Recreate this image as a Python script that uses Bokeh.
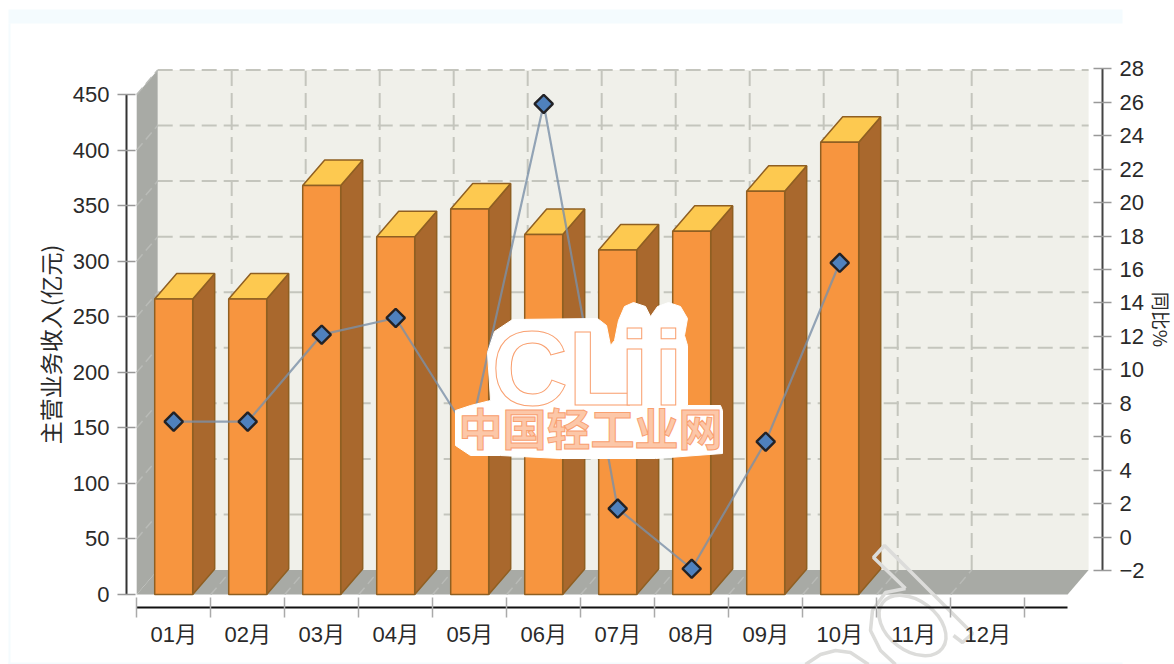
from bokeh.plotting import figure
from bokeh.models import Range1d, LinearAxis, FixedTicker
from bokeh.core.properties import value
from bokeh.embed import file_html
from bokeh.resources import INLINE
import math

months = ["01月", "02月", "03月", "04月", "05月", "06月", "07月", "08月", "09月", "10月", "11月", "12月"]
revenue = [266, 266, 368, 322, 347, 324, 310, 327, 363, 407]
growth = [6.9, 6.9, 12.1, 13.1, 6.1, 25.9, 1.7, -1.9, 5.7, 16.4]
left_ticks = [0, 50, 100, 150, 200, 250, 300, 350, 400, 450]
right_ticks = [-2, 0, 2, 4, 6, 8, 10, 12, 14, 16, 18, 20, 22, 24, 26, 28]

W, H = 1174, 664
OX, OY = 0, 0
XS, X0 = 74.0, 173.2
YS, Y0 = 500 / 450, 594.0
RS, R0 = 16.72, 536.5


def X(px):
    return (px - X0) / XS


def Y(py):
    return (Y0 - py) / YS


def R(py):
    return (R0 - py) / RS


FONT = "Liberation Sans, Noto Sans CJK SC"
CJK = "Noto Sans CJK SC"
INK = "#2a2a2a"

p = figure(width=W, height=H, output_backend="svg", toolbar_location=None,
           x_range=Range1d(X(OX), X(OX + W)), y_range=Range1d(Y(OY + H), Y(OY)),
           x_axis_type=None, y_axis_type=None, min_border=0,
           border_fill_color="white", background_fill_color="white", outline_line_color=None)
p.grid.visible = False
p.extra_y_ranges = {"pct": Range1d(R(OY + H), R(OY))}

# page strips
BAND = "#f4fbfe"
p.quad(left=[X(8)], right=[X(1122)], bottom=[Y(23)], top=[Y(9)], fill_color=BAND, line_color=None)
p.quad(left=[X(8)], right=[X(10)], bottom=[Y(664)], top=[Y(23)], fill_color=BAND, line_color=None)
p.quad(left=[X(8)], right=[X(1122)], bottom=[Y(664)], top=[Y(662)], fill_color=BAND, line_color=None)

# depth of the 3D box and bars, in data units
DX_W, DY_W = 21 / XS, 24.5 / YS
DX_B, DY_B = 22 / XS, 25.5 / YS
HALF = 19 / XS
XL, XR = -0.5, 12 - 0.5 + 0.58  # x extent of the floor front edge

# walls
p.quad(left=[XL + DX_W], right=[XR + DX_W], bottom=[DY_W], top=[450 + DY_W],
       fill_color="#f0f0ea", line_color=None)
p.patch([XL, XL + DX_W, XL + DX_W, XL], [0, DY_W, 450 + DY_W, 450],
        fill_color="#a8aaa5", line_color=None)
p.patch([XL, XL + DX_W, XR + DX_W, XR], [0, DY_W, DY_W, 0],
        fill_color="#a8aaa5", line_color=None)

# grid on the back wall, and its faint trace on side wall and floor
GRID = "#c4c5bd"
TRACE = "#b9bbb7"
for v in left_ticks[1:]:
    p.line([XL + DX_W, XR + DX_W], [v + DY_W, v + DY_W], line_color=GRID, line_width=2, line_dash="15 7")
    p.line([XL, XL + DX_W], [v, v + DY_W], line_color=TRACE, line_width=1.5, line_dash="9 5")
for i in range(1, 12):
    x = i - 0.5 + DX_W
    p.line([x, x], [DY_W, 450 + DY_W], line_color=GRID, line_width=2, line_dash="15 7")
    p.line([x - DX_W, x], [0, DY_W], line_color=TRACE, line_width=1.5, line_dash="9 5")

# 3D bars
EDGE = "#8f5f22"
for i, v in enumerate(revenue):
    l, r = i - HALF, i + HALF
    p.patch([r, r + DX_B, r + DX_B, r], [0, DY_B, v + DY_B, v],
            fill_color="#a9682d", line_color=EDGE, line_width=1.5)
    p.patch([l, r, r + DX_B, l + DX_B], [v, v, v + DY_B, v + DY_B],
            fill_color="#fdc950", line_color=EDGE, line_width=1.5)
    p.quad(left=[l], right=[r], bottom=[0], top=[v],
           fill_color="#f7953f", line_color=EDGE, line_width=1.5)

# growth line
xs = list(range(len(growth)))
p.line(xs, growth, y_range_name="pct", line_color="#7a90a8", line_alpha=0.8, line_width=2.2)
p.scatter(xs, growth, y_range_name="pct", marker="square", angle=math.pi / 4, size=13,
          fill_color="#4f81bd", line_color="#222226", line_width=2.4)

# axes
la = LinearAxis(ticker=FixedTicker(ticks=left_ticks), fixed_location=X(126), bounds=(0, 450),
                axis_label="主营业务收入(亿元)", axis_label_text_font=CJK, axis_label_text_font_size="23px",
                axis_label_text_font_style="normal", axis_label_text_color=INK, axis_label_standoff=3,
                major_label_text_font=FONT, major_label_text_font_size="22px", major_label_text_color=INK,
                major_label_standoff=8, axis_line_color="#333333", axis_line_width=2,
                major_tick_line_color="#999999", major_tick_line_width=1.5,
                major_tick_in=9, major_tick_out=9, minor_tick_line_color=None)
p.add_layout(la, "left")

ra = LinearAxis(y_range_name="pct", ticker=FixedTicker(ticks=right_ticks), fixed_location=X(1102),
                bounds=(-2, 28), axis_label="同比%", axis_label_text_font=CJK, axis_label_text_font_size="19px",
                axis_label_text_font_style="normal", axis_label_text_color=INK, axis_label_standoff=0,
                major_label_text_font=FONT, major_label_text_font_size="22px", major_label_text_color=INK,
                major_label_standoff=8, axis_line_color="#444444", axis_line_width=2,
                major_tick_line_color="#999999", major_tick_line_width=1.5,
                major_tick_in=9, major_tick_out=9, minor_tick_line_color=None)
p.add_layout(ra, "right")

bt = LinearAxis(ticker=FixedTicker(ticks=[i - 0.5 for i in range(13)]), fixed_location=Y(607),
                bounds=(XL, XR), major_label_text_color=None, major_label_text_font_size="1px",
                axis_line_color="#111111", axis_line_width=2,
                major_tick_line_color="#aaaaaa", major_tick_line_width=1.5,
                major_tick_in=10, major_tick_out=10, minor_tick_line_color=None)
p.add_layout(bt, "below")

ml = LinearAxis(ticker=FixedTicker(ticks=list(range(12))), fixed_location=Y(607),
                major_label_overrides={i: m for i, m in enumerate(months)},
                major_label_text_font=FONT, major_label_text_font_size="22px", major_label_text_color=INK,
                major_label_standoff=14, axis_line_color=None, major_tick_line_color=None,
                major_tick_in=0, major_tick_out=0, minor_tick_line_color=None)
p.add_layout(ml, "below")

# logo watermark
blob_px = [(487, 352), (494, 331), (512, 319), (597, 318), (606, 325), (610, 345), (614, 340), (618, 320),
           (624, 306), (633, 302), (645, 306), (650, 316), (657, 306), (668, 302), (680, 306), (687, 318),
           (684, 335), (687, 345), (687, 405), (720, 405), (722, 410), (722, 453), (655, 458), (560, 458),
           (500, 455), (470, 455), (455, 445), (455, 410), (470, 405), (490, 400)]
p.patch([X(a) for a, _ in blob_px], [Y(b) for _, b in blob_px], fill_color="white", line_color="white")
LOGO = "#f9a070"
p.text([X(491)], [Y(367)], text=["CL"], text_font=value("Liberation Sans"), text_font_style="bold",
       text_font_size="106px", text_color="white", text_outline_color=LOGO, text_baseline="alphabetic")
p.text([X(634), X(668)], [Y(367), Y(367)], text=["i", "i"], text_font=value("Liberation Sans"),
       text_font_style="bold", text_font_size="106px", text_color="white", text_outline_color=LOGO,
       text_align="center", text_baseline="alphabetic")
p.text([X(590)], [Y(426)], text=["中国轻工业网"], text_font=value(CJK), text_font_style="bold",
       text_font_size="44px", text_color="#fcc7a8", text_outline_color=LOGO, text_align="center",
       text_baseline="alphabetic")

# outline watermark at the lower right
WM = "#dcdcda"
arrow_px = [(905, 588), (873, 557), (884, 545), (972, 633), (962, 642), (953, 635)]
p.line([X(a) for a, _ in arrow_px], [Y(b) for _, b in arrow_px], line_color=WM, line_width=3.5)
p.ellipse([X(912)], [Y(625)], width=[75 / XS], height=[50 / YS], angle=[-0.65],
          fill_color=None, line_color=WM, line_width=3.5)
arc_a = [(905, 588), (885, 592), (872, 610), (870, 630), (880, 650), (895, 664)]
p.line([X(a) for a, _ in arc_a], [Y(b) for _, b in arc_a], line_color=WM, line_width=3.5)
arc_b = [(805, 664), (820, 654), (835, 650), (850, 652), (868, 664)]
p.line([X(a) for a, _ in arc_b], [Y(b) for _, b in arc_b], line_color=WM, line_width=3.5)

open("out.html", "w").write(file_html(p, INLINE))
